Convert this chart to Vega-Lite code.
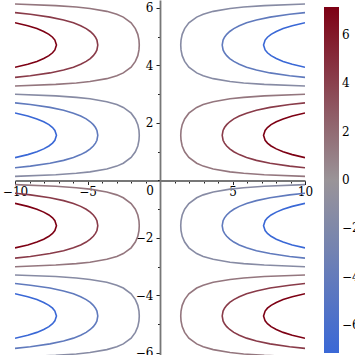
{
"$schema":"https://vega.github.io/schema/vega-lite/v6.json",
"width":290,"height":355,
"padding":{"left":15,"top":0,"right":50,"bottom":0},
"autosize":{"type":"none"},
"background":"white",
"config":{"view":{"stroke":null}},
"datasets":{"curves":[
{"k":"A7r","c":7.14,"x":10,"y":0.796},{"k":"A7r","c":7.14,"x":9.12,"y":0.9},{"k":"A7r","c":7.14,"x":8.49,"y":1.0},{"k":"A7r","c":7.14,"x":8.02,"y":1.1},{"k":"A7r","c":7.14,"x":7.66,"y":1.2},{"k":"A7r","c":7.14,"x":7.41,"y":1.3},{"k":"A7r","c":7.14,"x":7.25,"y":1.4},{"k":"A7r","c":7.14,"x":7.14,"y":1.571},{"k":"A7r","c":7.14,"x":7.25,"y":1.742},{"k":"A7r","c":7.14,"x":7.41,"y":1.842},{"k":"A7r","c":7.14,"x":7.66,"y":1.942},{"k":"A7r","c":7.14,"x":8.02,"y":2.042},{"k":"A7r","c":7.14,"x":8.49,"y":2.142},{"k":"A7r","c":7.14,"x":9.12,"y":2.242},{"k":"A7r","c":7.14,"x":10,"y":2.346},
{"k":"A7b","c":-7.14,"x":-10,"y":0.796},{"k":"A7b","c":-7.14,"x":-9.12,"y":0.9},{"k":"A7b","c":-7.14,"x":-8.49,"y":1.0},{"k":"A7b","c":-7.14,"x":-8.02,"y":1.1},{"k":"A7b","c":-7.14,"x":-7.66,"y":1.2},{"k":"A7b","c":-7.14,"x":-7.41,"y":1.3},{"k":"A7b","c":-7.14,"x":-7.25,"y":1.4},{"k":"A7b","c":-7.14,"x":-7.14,"y":1.571},{"k":"A7b","c":-7.14,"x":-7.25,"y":1.742},{"k":"A7b","c":-7.14,"x":-7.41,"y":1.842},{"k":"A7b","c":-7.14,"x":-7.66,"y":1.942},{"k":"A7b","c":-7.14,"x":-8.02,"y":2.042},{"k":"A7b","c":-7.14,"x":-8.49,"y":2.142},{"k":"A7b","c":-7.14,"x":-9.12,"y":2.242},{"k":"A7b","c":-7.14,"x":-10,"y":2.346},
{"k":"A4r","c":4.29,"x":10,"y":0.443},{"k":"A4r","c":4.29,"x":8.94,"y":0.5},{"k":"A4r","c":4.29,"x":7.59,"y":0.6},{"k":"A4r","c":4.29,"x":6.65,"y":0.7},{"k":"A4r","c":4.29,"x":5.97,"y":0.8},{"k":"A4r","c":4.29,"x":5.47,"y":0.9},{"k":"A4r","c":4.29,"x":5.09,"y":1.0},{"k":"A4r","c":4.29,"x":4.81,"y":1.1},{"k":"A4r","c":4.29,"x":4.6,"y":1.2},{"k":"A4r","c":4.29,"x":4.45,"y":1.3},{"k":"A4r","c":4.29,"x":4.35,"y":1.4},{"k":"A4r","c":4.29,"x":4.29,"y":1.571},{"k":"A4r","c":4.29,"x":4.35,"y":1.742},{"k":"A4r","c":4.29,"x":4.45,"y":1.842},{"k":"A4r","c":4.29,"x":4.6,"y":1.942},{"k":"A4r","c":4.29,"x":4.81,"y":2.042},{"k":"A4r","c":4.29,"x":5.09,"y":2.142},{"k":"A4r","c":4.29,"x":5.47,"y":2.242},{"k":"A4r","c":4.29,"x":5.97,"y":2.342},{"k":"A4r","c":4.29,"x":6.65,"y":2.442},{"k":"A4r","c":4.29,"x":7.59,"y":2.542},{"k":"A4r","c":4.29,"x":8.94,"y":2.642},{"k":"A4r","c":4.29,"x":10,"y":2.699},
{"k":"A4b","c":-4.29,"x":-10,"y":0.443},{"k":"A4b","c":-4.29,"x":-8.94,"y":0.5},{"k":"A4b","c":-4.29,"x":-7.59,"y":0.6},{"k":"A4b","c":-4.29,"x":-6.65,"y":0.7},{"k":"A4b","c":-4.29,"x":-5.97,"y":0.8},{"k":"A4b","c":-4.29,"x":-5.47,"y":0.9},{"k":"A4b","c":-4.29,"x":-5.09,"y":1.0},{"k":"A4b","c":-4.29,"x":-4.81,"y":1.1},{"k":"A4b","c":-4.29,"x":-4.6,"y":1.2},{"k":"A4b","c":-4.29,"x":-4.45,"y":1.3},{"k":"A4b","c":-4.29,"x":-4.35,"y":1.4},{"k":"A4b","c":-4.29,"x":-4.29,"y":1.571},{"k":"A4b","c":-4.29,"x":-4.35,"y":1.742},{"k":"A4b","c":-4.29,"x":-4.45,"y":1.842},{"k":"A4b","c":-4.29,"x":-4.6,"y":1.942},{"k":"A4b","c":-4.29,"x":-4.81,"y":2.042},{"k":"A4b","c":-4.29,"x":-5.09,"y":2.142},{"k":"A4b","c":-4.29,"x":-5.47,"y":2.242},{"k":"A4b","c":-4.29,"x":-5.97,"y":2.342},{"k":"A4b","c":-4.29,"x":-6.65,"y":2.442},{"k":"A4b","c":-4.29,"x":-7.59,"y":2.542},{"k":"A4b","c":-4.29,"x":-8.94,"y":2.642},{"k":"A4b","c":-4.29,"x":-10,"y":2.699},
{"k":"A1r","c":1.43,"x":10,"y":0.143},{"k":"A1r","c":1.43,"x":7.19,"y":0.2},{"k":"A1r","c":1.43,"x":5.77,"y":0.25},{"k":"A1r","c":1.43,"x":4.83,"y":0.3},{"k":"A1r","c":1.43,"x":3.67,"y":0.4},{"k":"A1r","c":1.43,"x":2.98,"y":0.5},{"k":"A1r","c":1.43,"x":2.53,"y":0.6},{"k":"A1r","c":1.43,"x":1.99,"y":0.8},{"k":"A1r","c":1.43,"x":1.7,"y":1.0},{"k":"A1r","c":1.43,"x":1.53,"y":1.2},{"k":"A1r","c":1.43,"x":1.45,"y":1.4},{"k":"A1r","c":1.43,"x":1.43,"y":1.571},{"k":"A1r","c":1.43,"x":1.45,"y":1.742},{"k":"A1r","c":1.43,"x":1.53,"y":1.942},{"k":"A1r","c":1.43,"x":1.7,"y":2.142},{"k":"A1r","c":1.43,"x":1.99,"y":2.342},{"k":"A1r","c":1.43,"x":2.53,"y":2.542},{"k":"A1r","c":1.43,"x":2.98,"y":2.642},{"k":"A1r","c":1.43,"x":3.67,"y":2.742},{"k":"A1r","c":1.43,"x":4.83,"y":2.842},{"k":"A1r","c":1.43,"x":5.77,"y":2.892},{"k":"A1r","c":1.43,"x":7.19,"y":2.942},{"k":"A1r","c":1.43,"x":10,"y":2.998},
{"k":"A1b","c":-1.43,"x":-10,"y":0.143},{"k":"A1b","c":-1.43,"x":-7.19,"y":0.2},{"k":"A1b","c":-1.43,"x":-5.77,"y":0.25},{"k":"A1b","c":-1.43,"x":-4.83,"y":0.3},{"k":"A1b","c":-1.43,"x":-3.67,"y":0.4},{"k":"A1b","c":-1.43,"x":-2.98,"y":0.5},{"k":"A1b","c":-1.43,"x":-2.53,"y":0.6},{"k":"A1b","c":-1.43,"x":-1.99,"y":0.8},{"k":"A1b","c":-1.43,"x":-1.7,"y":1.0},{"k":"A1b","c":-1.43,"x":-1.53,"y":1.2},{"k":"A1b","c":-1.43,"x":-1.45,"y":1.4},{"k":"A1b","c":-1.43,"x":-1.43,"y":1.571},{"k":"A1b","c":-1.43,"x":-1.45,"y":1.742},{"k":"A1b","c":-1.43,"x":-1.53,"y":1.942},{"k":"A1b","c":-1.43,"x":-1.7,"y":2.142},{"k":"A1b","c":-1.43,"x":-1.99,"y":2.342},{"k":"A1b","c":-1.43,"x":-2.53,"y":2.542},{"k":"A1b","c":-1.43,"x":-2.98,"y":2.642},{"k":"A1b","c":-1.43,"x":-3.67,"y":2.742},{"k":"A1b","c":-1.43,"x":-4.83,"y":2.842},{"k":"A1b","c":-1.43,"x":-5.77,"y":2.892},{"k":"A1b","c":-1.43,"x":-7.19,"y":2.942},{"k":"A1b","c":-1.43,"x":-10,"y":2.998},

{"k":"B7r","c":7.14,"x":-10,"y":3.938},{"k":"B7r","c":7.14,"x":-9.12,"y":4.042},{"k":"B7r","c":7.14,"x":-8.49,"y":4.142},{"k":"B7r","c":7.14,"x":-8.02,"y":4.242},{"k":"B7r","c":7.14,"x":-7.66,"y":4.342},{"k":"B7r","c":7.14,"x":-7.41,"y":4.442},{"k":"B7r","c":7.14,"x":-7.25,"y":4.542},{"k":"B7r","c":7.14,"x":-7.14,"y":4.712},{"k":"B7r","c":7.14,"x":-7.25,"y":4.883},{"k":"B7r","c":7.14,"x":-7.41,"y":4.983},{"k":"B7r","c":7.14,"x":-7.66,"y":5.083},{"k":"B7r","c":7.14,"x":-8.02,"y":5.183},{"k":"B7r","c":7.14,"x":-8.49,"y":5.283},{"k":"B7r","c":7.14,"x":-9.12,"y":5.383},{"k":"B7r","c":7.14,"x":-10,"y":5.488},
{"k":"B7b","c":-7.14,"x":10,"y":3.938},{"k":"B7b","c":-7.14,"x":9.12,"y":4.042},{"k":"B7b","c":-7.14,"x":8.49,"y":4.142},{"k":"B7b","c":-7.14,"x":8.02,"y":4.242},{"k":"B7b","c":-7.14,"x":7.66,"y":4.342},{"k":"B7b","c":-7.14,"x":7.41,"y":4.442},{"k":"B7b","c":-7.14,"x":7.25,"y":4.542},{"k":"B7b","c":-7.14,"x":7.14,"y":4.712},{"k":"B7b","c":-7.14,"x":7.25,"y":4.883},{"k":"B7b","c":-7.14,"x":7.41,"y":4.983},{"k":"B7b","c":-7.14,"x":7.66,"y":5.083},{"k":"B7b","c":-7.14,"x":8.02,"y":5.183},{"k":"B7b","c":-7.14,"x":8.49,"y":5.283},{"k":"B7b","c":-7.14,"x":9.12,"y":5.383},{"k":"B7b","c":-7.14,"x":10,"y":5.488},
{"k":"B4r","c":4.29,"x":-10,"y":3.585},{"k":"B4r","c":4.29,"x":-8.94,"y":3.642},{"k":"B4r","c":4.29,"x":-7.59,"y":3.742},{"k":"B4r","c":4.29,"x":-6.65,"y":3.842},{"k":"B4r","c":4.29,"x":-5.97,"y":3.942},{"k":"B4r","c":4.29,"x":-5.47,"y":4.042},{"k":"B4r","c":4.29,"x":-5.09,"y":4.142},{"k":"B4r","c":4.29,"x":-4.81,"y":4.242},{"k":"B4r","c":4.29,"x":-4.6,"y":4.342},{"k":"B4r","c":4.29,"x":-4.45,"y":4.442},{"k":"B4r","c":4.29,"x":-4.35,"y":4.542},{"k":"B4r","c":4.29,"x":-4.29,"y":4.712},{"k":"B4r","c":4.29,"x":-4.35,"y":4.883},{"k":"B4r","c":4.29,"x":-4.45,"y":4.983},{"k":"B4r","c":4.29,"x":-4.6,"y":5.083},{"k":"B4r","c":4.29,"x":-4.81,"y":5.183},{"k":"B4r","c":4.29,"x":-5.09,"y":5.283},{"k":"B4r","c":4.29,"x":-5.47,"y":5.383},{"k":"B4r","c":4.29,"x":-5.97,"y":5.483},{"k":"B4r","c":4.29,"x":-6.65,"y":5.583},{"k":"B4r","c":4.29,"x":-7.59,"y":5.683},{"k":"B4r","c":4.29,"x":-8.94,"y":5.783},{"k":"B4r","c":4.29,"x":-10,"y":5.84},
{"k":"B4b","c":-4.29,"x":10,"y":3.585},{"k":"B4b","c":-4.29,"x":8.94,"y":3.642},{"k":"B4b","c":-4.29,"x":7.59,"y":3.742},{"k":"B4b","c":-4.29,"x":6.65,"y":3.842},{"k":"B4b","c":-4.29,"x":5.97,"y":3.942},{"k":"B4b","c":-4.29,"x":5.47,"y":4.042},{"k":"B4b","c":-4.29,"x":5.09,"y":4.142},{"k":"B4b","c":-4.29,"x":4.81,"y":4.242},{"k":"B4b","c":-4.29,"x":4.6,"y":4.342},{"k":"B4b","c":-4.29,"x":4.45,"y":4.442},{"k":"B4b","c":-4.29,"x":4.35,"y":4.542},{"k":"B4b","c":-4.29,"x":4.29,"y":4.712},{"k":"B4b","c":-4.29,"x":4.35,"y":4.883},{"k":"B4b","c":-4.29,"x":4.45,"y":4.983},{"k":"B4b","c":-4.29,"x":4.6,"y":5.083},{"k":"B4b","c":-4.29,"x":4.81,"y":5.183},{"k":"B4b","c":-4.29,"x":5.09,"y":5.283},{"k":"B4b","c":-4.29,"x":5.47,"y":5.383},{"k":"B4b","c":-4.29,"x":5.97,"y":5.483},{"k":"B4b","c":-4.29,"x":6.65,"y":5.583},{"k":"B4b","c":-4.29,"x":7.59,"y":5.683},{"k":"B4b","c":-4.29,"x":8.94,"y":5.783},{"k":"B4b","c":-4.29,"x":10,"y":5.84},
{"k":"B1r","c":1.43,"x":-10,"y":3.285},{"k":"B1r","c":1.43,"x":-7.19,"y":3.342},{"k":"B1r","c":1.43,"x":-5.77,"y":3.392},{"k":"B1r","c":1.43,"x":-4.83,"y":3.442},{"k":"B1r","c":1.43,"x":-3.67,"y":3.542},{"k":"B1r","c":1.43,"x":-2.98,"y":3.642},{"k":"B1r","c":1.43,"x":-2.53,"y":3.742},{"k":"B1r","c":1.43,"x":-1.99,"y":3.942},{"k":"B1r","c":1.43,"x":-1.7,"y":4.142},{"k":"B1r","c":1.43,"x":-1.53,"y":4.342},{"k":"B1r","c":1.43,"x":-1.45,"y":4.542},{"k":"B1r","c":1.43,"x":-1.43,"y":4.712},{"k":"B1r","c":1.43,"x":-1.45,"y":4.883},{"k":"B1r","c":1.43,"x":-1.53,"y":5.083},{"k":"B1r","c":1.43,"x":-1.7,"y":5.283},{"k":"B1r","c":1.43,"x":-1.99,"y":5.483},{"k":"B1r","c":1.43,"x":-2.53,"y":5.683},{"k":"B1r","c":1.43,"x":-2.98,"y":5.783},{"k":"B1r","c":1.43,"x":-3.67,"y":5.883},{"k":"B1r","c":1.43,"x":-4.83,"y":5.983},{"k":"B1r","c":1.43,"x":-5.77,"y":6.033},{"k":"B1r","c":1.43,"x":-7.19,"y":6.083},{"k":"B1r","c":1.43,"x":-10,"y":6.14},
{"k":"B1b","c":-1.43,"x":10,"y":3.285},{"k":"B1b","c":-1.43,"x":7.19,"y":3.342},{"k":"B1b","c":-1.43,"x":5.77,"y":3.392},{"k":"B1b","c":-1.43,"x":4.83,"y":3.442},{"k":"B1b","c":-1.43,"x":3.67,"y":3.542},{"k":"B1b","c":-1.43,"x":2.98,"y":3.642},{"k":"B1b","c":-1.43,"x":2.53,"y":3.742},{"k":"B1b","c":-1.43,"x":1.99,"y":3.942},{"k":"B1b","c":-1.43,"x":1.7,"y":4.142},{"k":"B1b","c":-1.43,"x":1.53,"y":4.342},{"k":"B1b","c":-1.43,"x":1.45,"y":4.542},{"k":"B1b","c":-1.43,"x":1.43,"y":4.712},{"k":"B1b","c":-1.43,"x":1.45,"y":4.883},{"k":"B1b","c":-1.43,"x":1.53,"y":5.083},{"k":"B1b","c":-1.43,"x":1.7,"y":5.283},{"k":"B1b","c":-1.43,"x":1.99,"y":5.483},{"k":"B1b","c":-1.43,"x":2.53,"y":5.683},{"k":"B1b","c":-1.43,"x":2.98,"y":5.783},{"k":"B1b","c":-1.43,"x":3.67,"y":5.883},{"k":"B1b","c":-1.43,"x":4.83,"y":5.983},{"k":"B1b","c":-1.43,"x":5.77,"y":6.033},{"k":"B1b","c":-1.43,"x":7.19,"y":6.083},{"k":"B1b","c":-1.43,"x":10,"y":6.14},

{"k":"C7r","c":7.14,"x":-10,"y":-2.346},{"k":"C7r","c":7.14,"x":-9.12,"y":-2.242},{"k":"C7r","c":7.14,"x":-8.49,"y":-2.142},{"k":"C7r","c":7.14,"x":-8.02,"y":-2.042},{"k":"C7r","c":7.14,"x":-7.66,"y":-1.942},{"k":"C7r","c":7.14,"x":-7.41,"y":-1.842},{"k":"C7r","c":7.14,"x":-7.25,"y":-1.742},{"k":"C7r","c":7.14,"x":-7.14,"y":-1.571},{"k":"C7r","c":7.14,"x":-7.25,"y":-1.4},{"k":"C7r","c":7.14,"x":-7.41,"y":-1.3},{"k":"C7r","c":7.14,"x":-7.66,"y":-1.2},{"k":"C7r","c":7.14,"x":-8.02,"y":-1.1},{"k":"C7r","c":7.14,"x":-8.49,"y":-1.0},{"k":"C7r","c":7.14,"x":-9.12,"y":-0.9},{"k":"C7r","c":7.14,"x":-10,"y":-0.796},
{"k":"C7b","c":-7.14,"x":10,"y":-2.346},{"k":"C7b","c":-7.14,"x":9.12,"y":-2.242},{"k":"C7b","c":-7.14,"x":8.49,"y":-2.142},{"k":"C7b","c":-7.14,"x":8.02,"y":-2.042},{"k":"C7b","c":-7.14,"x":7.66,"y":-1.942},{"k":"C7b","c":-7.14,"x":7.41,"y":-1.842},{"k":"C7b","c":-7.14,"x":7.25,"y":-1.742},{"k":"C7b","c":-7.14,"x":7.14,"y":-1.571},{"k":"C7b","c":-7.14,"x":7.25,"y":-1.4},{"k":"C7b","c":-7.14,"x":7.41,"y":-1.3},{"k":"C7b","c":-7.14,"x":7.66,"y":-1.2},{"k":"C7b","c":-7.14,"x":8.02,"y":-1.1},{"k":"C7b","c":-7.14,"x":8.49,"y":-1.0},{"k":"C7b","c":-7.14,"x":9.12,"y":-0.9},{"k":"C7b","c":-7.14,"x":10,"y":-0.796},
{"k":"C4r","c":4.29,"x":-10,"y":-2.699},{"k":"C4r","c":4.29,"x":-8.94,"y":-2.642},{"k":"C4r","c":4.29,"x":-7.59,"y":-2.542},{"k":"C4r","c":4.29,"x":-6.65,"y":-2.442},{"k":"C4r","c":4.29,"x":-5.97,"y":-2.342},{"k":"C4r","c":4.29,"x":-5.47,"y":-2.242},{"k":"C4r","c":4.29,"x":-5.09,"y":-2.142},{"k":"C4r","c":4.29,"x":-4.81,"y":-2.042},{"k":"C4r","c":4.29,"x":-4.6,"y":-1.942},{"k":"C4r","c":4.29,"x":-4.45,"y":-1.842},{"k":"C4r","c":4.29,"x":-4.35,"y":-1.742},{"k":"C4r","c":4.29,"x":-4.29,"y":-1.571},{"k":"C4r","c":4.29,"x":-4.35,"y":-1.4},{"k":"C4r","c":4.29,"x":-4.45,"y":-1.3},{"k":"C4r","c":4.29,"x":-4.6,"y":-1.2},{"k":"C4r","c":4.29,"x":-4.81,"y":-1.1},{"k":"C4r","c":4.29,"x":-5.09,"y":-1.0},{"k":"C4r","c":4.29,"x":-5.47,"y":-0.9},{"k":"C4r","c":4.29,"x":-5.97,"y":-0.8},{"k":"C4r","c":4.29,"x":-6.65,"y":-0.7},{"k":"C4r","c":4.29,"x":-7.59,"y":-0.6},{"k":"C4r","c":4.29,"x":-8.94,"y":-0.5},{"k":"C4r","c":4.29,"x":-10,"y":-0.443},
{"k":"C4b","c":-4.29,"x":10,"y":-2.699},{"k":"C4b","c":-4.29,"x":8.94,"y":-2.642},{"k":"C4b","c":-4.29,"x":7.59,"y":-2.542},{"k":"C4b","c":-4.29,"x":6.65,"y":-2.442},{"k":"C4b","c":-4.29,"x":5.97,"y":-2.342},{"k":"C4b","c":-4.29,"x":5.47,"y":-2.242},{"k":"C4b","c":-4.29,"x":5.09,"y":-2.142},{"k":"C4b","c":-4.29,"x":4.81,"y":-2.042},{"k":"C4b","c":-4.29,"x":4.6,"y":-1.942},{"k":"C4b","c":-4.29,"x":4.45,"y":-1.842},{"k":"C4b","c":-4.29,"x":4.35,"y":-1.742},{"k":"C4b","c":-4.29,"x":4.29,"y":-1.571},{"k":"C4b","c":-4.29,"x":4.35,"y":-1.4},{"k":"C4b","c":-4.29,"x":4.45,"y":-1.3},{"k":"C4b","c":-4.29,"x":4.6,"y":-1.2},{"k":"C4b","c":-4.29,"x":4.81,"y":-1.1},{"k":"C4b","c":-4.29,"x":5.09,"y":-1.0},{"k":"C4b","c":-4.29,"x":5.47,"y":-0.9},{"k":"C4b","c":-4.29,"x":5.97,"y":-0.8},{"k":"C4b","c":-4.29,"x":6.65,"y":-0.7},{"k":"C4b","c":-4.29,"x":7.59,"y":-0.6},{"k":"C4b","c":-4.29,"x":8.94,"y":-0.5},{"k":"C4b","c":-4.29,"x":10,"y":-0.443},
{"k":"C1r","c":1.43,"x":-10,"y":-2.998},{"k":"C1r","c":1.43,"x":-7.19,"y":-2.942},{"k":"C1r","c":1.43,"x":-5.77,"y":-2.892},{"k":"C1r","c":1.43,"x":-4.83,"y":-2.842},{"k":"C1r","c":1.43,"x":-3.67,"y":-2.742},{"k":"C1r","c":1.43,"x":-2.98,"y":-2.642},{"k":"C1r","c":1.43,"x":-2.53,"y":-2.542},{"k":"C1r","c":1.43,"x":-1.99,"y":-2.342},{"k":"C1r","c":1.43,"x":-1.7,"y":-2.142},{"k":"C1r","c":1.43,"x":-1.53,"y":-1.942},{"k":"C1r","c":1.43,"x":-1.45,"y":-1.742},{"k":"C1r","c":1.43,"x":-1.43,"y":-1.571},{"k":"C1r","c":1.43,"x":-1.45,"y":-1.4},{"k":"C1r","c":1.43,"x":-1.53,"y":-1.2},{"k":"C1r","c":1.43,"x":-1.7,"y":-1.0},{"k":"C1r","c":1.43,"x":-1.99,"y":-0.8},{"k":"C1r","c":1.43,"x":-2.53,"y":-0.6},{"k":"C1r","c":1.43,"x":-2.98,"y":-0.5},{"k":"C1r","c":1.43,"x":-3.67,"y":-0.4},{"k":"C1r","c":1.43,"x":-4.83,"y":-0.3},{"k":"C1r","c":1.43,"x":-5.77,"y":-0.25},{"k":"C1r","c":1.43,"x":-7.19,"y":-0.2},{"k":"C1r","c":1.43,"x":-10,"y":-0.143},
{"k":"C1b","c":-1.43,"x":10,"y":-2.998},{"k":"C1b","c":-1.43,"x":7.19,"y":-2.942},{"k":"C1b","c":-1.43,"x":5.77,"y":-2.892},{"k":"C1b","c":-1.43,"x":4.83,"y":-2.842},{"k":"C1b","c":-1.43,"x":3.67,"y":-2.742},{"k":"C1b","c":-1.43,"x":2.98,"y":-2.642},{"k":"C1b","c":-1.43,"x":2.53,"y":-2.542},{"k":"C1b","c":-1.43,"x":1.99,"y":-2.342},{"k":"C1b","c":-1.43,"x":1.7,"y":-2.142},{"k":"C1b","c":-1.43,"x":1.53,"y":-1.942},{"k":"C1b","c":-1.43,"x":1.45,"y":-1.742},{"k":"C1b","c":-1.43,"x":1.43,"y":-1.571},{"k":"C1b","c":-1.43,"x":1.45,"y":-1.4},{"k":"C1b","c":-1.43,"x":1.53,"y":-1.2},{"k":"C1b","c":-1.43,"x":1.7,"y":-1.0},{"k":"C1b","c":-1.43,"x":1.99,"y":-0.8},{"k":"C1b","c":-1.43,"x":2.53,"y":-0.6},{"k":"C1b","c":-1.43,"x":2.98,"y":-0.5},{"k":"C1b","c":-1.43,"x":3.67,"y":-0.4},{"k":"C1b","c":-1.43,"x":4.83,"y":-0.3},{"k":"C1b","c":-1.43,"x":5.77,"y":-0.25},{"k":"C1b","c":-1.43,"x":7.19,"y":-0.2},{"k":"C1b","c":-1.43,"x":10,"y":-0.143},

{"k":"D7r","c":7.14,"x":10,"y":-5.488},{"k":"D7r","c":7.14,"x":9.12,"y":-5.383},{"k":"D7r","c":7.14,"x":8.49,"y":-5.283},{"k":"D7r","c":7.14,"x":8.02,"y":-5.183},{"k":"D7r","c":7.14,"x":7.66,"y":-5.083},{"k":"D7r","c":7.14,"x":7.41,"y":-4.983},{"k":"D7r","c":7.14,"x":7.25,"y":-4.883},{"k":"D7r","c":7.14,"x":7.14,"y":-4.712},{"k":"D7r","c":7.14,"x":7.25,"y":-4.542},{"k":"D7r","c":7.14,"x":7.41,"y":-4.442},{"k":"D7r","c":7.14,"x":7.66,"y":-4.342},{"k":"D7r","c":7.14,"x":8.02,"y":-4.242},{"k":"D7r","c":7.14,"x":8.49,"y":-4.142},{"k":"D7r","c":7.14,"x":9.12,"y":-4.042},{"k":"D7r","c":7.14,"x":10,"y":-3.938},
{"k":"D7b","c":-7.14,"x":-10,"y":-5.488},{"k":"D7b","c":-7.14,"x":-9.12,"y":-5.383},{"k":"D7b","c":-7.14,"x":-8.49,"y":-5.283},{"k":"D7b","c":-7.14,"x":-8.02,"y":-5.183},{"k":"D7b","c":-7.14,"x":-7.66,"y":-5.083},{"k":"D7b","c":-7.14,"x":-7.41,"y":-4.983},{"k":"D7b","c":-7.14,"x":-7.25,"y":-4.883},{"k":"D7b","c":-7.14,"x":-7.14,"y":-4.712},{"k":"D7b","c":-7.14,"x":-7.25,"y":-4.542},{"k":"D7b","c":-7.14,"x":-7.41,"y":-4.442},{"k":"D7b","c":-7.14,"x":-7.66,"y":-4.342},{"k":"D7b","c":-7.14,"x":-8.02,"y":-4.242},{"k":"D7b","c":-7.14,"x":-8.49,"y":-4.142},{"k":"D7b","c":-7.14,"x":-9.12,"y":-4.042},{"k":"D7b","c":-7.14,"x":-10,"y":-3.938},
{"k":"D4r","c":4.29,"x":10,"y":-5.84},{"k":"D4r","c":4.29,"x":8.94,"y":-5.783},{"k":"D4r","c":4.29,"x":7.59,"y":-5.683},{"k":"D4r","c":4.29,"x":6.65,"y":-5.583},{"k":"D4r","c":4.29,"x":5.97,"y":-5.483},{"k":"D4r","c":4.29,"x":5.47,"y":-5.383},{"k":"D4r","c":4.29,"x":5.09,"y":-5.283},{"k":"D4r","c":4.29,"x":4.81,"y":-5.183},{"k":"D4r","c":4.29,"x":4.6,"y":-5.083},{"k":"D4r","c":4.29,"x":4.45,"y":-4.983},{"k":"D4r","c":4.29,"x":4.35,"y":-4.883},{"k":"D4r","c":4.29,"x":4.29,"y":-4.712},{"k":"D4r","c":4.29,"x":4.35,"y":-4.542},{"k":"D4r","c":4.29,"x":4.45,"y":-4.442},{"k":"D4r","c":4.29,"x":4.6,"y":-4.342},{"k":"D4r","c":4.29,"x":4.81,"y":-4.242},{"k":"D4r","c":4.29,"x":5.09,"y":-4.142},{"k":"D4r","c":4.29,"x":5.47,"y":-4.042},{"k":"D4r","c":4.29,"x":5.97,"y":-3.942},{"k":"D4r","c":4.29,"x":6.65,"y":-3.842},{"k":"D4r","c":4.29,"x":7.59,"y":-3.742},{"k":"D4r","c":4.29,"x":8.94,"y":-3.642},{"k":"D4r","c":4.29,"x":10,"y":-3.585},
{"k":"D4b","c":-4.29,"x":-10,"y":-5.84},{"k":"D4b","c":-4.29,"x":-8.94,"y":-5.783},{"k":"D4b","c":-4.29,"x":-7.59,"y":-5.683},{"k":"D4b","c":-4.29,"x":-6.65,"y":-5.583},{"k":"D4b","c":-4.29,"x":-5.97,"y":-5.483},{"k":"D4b","c":-4.29,"x":-5.47,"y":-5.383},{"k":"D4b","c":-4.29,"x":-5.09,"y":-5.283},{"k":"D4b","c":-4.29,"x":-4.81,"y":-5.183},{"k":"D4b","c":-4.29,"x":-4.6,"y":-5.083},{"k":"D4b","c":-4.29,"x":-4.45,"y":-4.983},{"k":"D4b","c":-4.29,"x":-4.35,"y":-4.883},{"k":"D4b","c":-4.29,"x":-4.29,"y":-4.712},{"k":"D4b","c":-4.29,"x":-4.35,"y":-4.542},{"k":"D4b","c":-4.29,"x":-4.45,"y":-4.442},{"k":"D4b","c":-4.29,"x":-4.6,"y":-4.342},{"k":"D4b","c":-4.29,"x":-4.81,"y":-4.242},{"k":"D4b","c":-4.29,"x":-5.09,"y":-4.142},{"k":"D4b","c":-4.29,"x":-5.47,"y":-4.042},{"k":"D4b","c":-4.29,"x":-5.97,"y":-3.942},{"k":"D4b","c":-4.29,"x":-6.65,"y":-3.842},{"k":"D4b","c":-4.29,"x":-7.59,"y":-3.742},{"k":"D4b","c":-4.29,"x":-8.94,"y":-3.642},{"k":"D4b","c":-4.29,"x":-10,"y":-3.585},
{"k":"D1r","c":1.43,"x":10,"y":-6.14},{"k":"D1r","c":1.43,"x":7.19,"y":-6.083},{"k":"D1r","c":1.43,"x":5.77,"y":-6.033},{"k":"D1r","c":1.43,"x":4.83,"y":-5.983},{"k":"D1r","c":1.43,"x":3.67,"y":-5.883},{"k":"D1r","c":1.43,"x":2.98,"y":-5.783},{"k":"D1r","c":1.43,"x":2.53,"y":-5.683},{"k":"D1r","c":1.43,"x":1.99,"y":-5.483},{"k":"D1r","c":1.43,"x":1.7,"y":-5.283},{"k":"D1r","c":1.43,"x":1.53,"y":-5.083},{"k":"D1r","c":1.43,"x":1.45,"y":-4.883},{"k":"D1r","c":1.43,"x":1.43,"y":-4.712},{"k":"D1r","c":1.43,"x":1.45,"y":-4.542},{"k":"D1r","c":1.43,"x":1.53,"y":-4.342},{"k":"D1r","c":1.43,"x":1.7,"y":-4.142},{"k":"D1r","c":1.43,"x":1.99,"y":-3.942},{"k":"D1r","c":1.43,"x":2.53,"y":-3.742},{"k":"D1r","c":1.43,"x":2.98,"y":-3.642},{"k":"D1r","c":1.43,"x":3.67,"y":-3.542},{"k":"D1r","c":1.43,"x":4.83,"y":-3.442},{"k":"D1r","c":1.43,"x":5.77,"y":-3.392},{"k":"D1r","c":1.43,"x":7.19,"y":-3.342},{"k":"D1r","c":1.43,"x":10,"y":-3.285},
{"k":"D1b","c":-1.43,"x":-10,"y":-6.14},{"k":"D1b","c":-1.43,"x":-7.19,"y":-6.083},{"k":"D1b","c":-1.43,"x":-5.77,"y":-6.033},{"k":"D1b","c":-1.43,"x":-4.83,"y":-5.983},{"k":"D1b","c":-1.43,"x":-3.67,"y":-5.883},{"k":"D1b","c":-1.43,"x":-2.98,"y":-5.783},{"k":"D1b","c":-1.43,"x":-2.53,"y":-5.683},{"k":"D1b","c":-1.43,"x":-1.99,"y":-5.483},{"k":"D1b","c":-1.43,"x":-1.7,"y":-5.283},{"k":"D1b","c":-1.43,"x":-1.53,"y":-5.083},{"k":"D1b","c":-1.43,"x":-1.45,"y":-4.883},{"k":"D1b","c":-1.43,"x":-1.43,"y":-4.712},{"k":"D1b","c":-1.43,"x":-1.45,"y":-4.542},{"k":"D1b","c":-1.43,"x":-1.53,"y":-4.342},{"k":"D1b","c":-1.43,"x":-1.7,"y":-4.142},{"k":"D1b","c":-1.43,"x":-1.99,"y":-3.942},{"k":"D1b","c":-1.43,"x":-2.53,"y":-3.742},{"k":"D1b","c":-1.43,"x":-2.98,"y":-3.642},{"k":"D1b","c":-1.43,"x":-3.67,"y":-3.542},{"k":"D1b","c":-1.43,"x":-4.83,"y":-3.442},{"k":"D1b","c":-1.43,"x":-5.77,"y":-3.392},{"k":"D1b","c":-1.43,"x":-7.19,"y":-3.342},{"k":"D1b","c":-1.43,"x":-10,"y":-3.285}
]},
"data":{"name":"curves"},
"mark":{"type":"line","strokeWidth":1.6,"clip":true},
"encoding":{
"x":{"field":"x","type":"quantitative","scale":{"domain":[-10,10],"nice":false,"zero":false},
 "axis":{"orient":"bottom","offset":-174.5,"title":null,"grid":false,
  "values":[-10,-9,-8,-7,-6,-5,-4,-3,-2,-1,1,2,3,4,5,6,7,8,9,10],
  "labelExpr":"datum.value % 5 == 0 ? replace(datum.label, '-', '−') : ''",
  "domainColor":"#777","domainWidth":1.8,"tickColor":"#222","tickWidth":1,
  "tickSize":{"condition":{"test":"datum.value % 5 == 0","value":4},"value":2.5},
  "labelFont":"DejaVu Serif","labelFontSize":12,"labelColor":"#000","labelPadding":2,"labelOverlap":false,"labelFlush":false}},
"y":{"field":"y","type":"quantitative","scale":{"domain":[-6.07,6.278],"nice":false,"zero":false},
 "axis":{"orient":"left","offset":-145,"title":null,"grid":false,
  "values":[-6,-5,-4,-3,-2,-1,0,1,2,3,4,5,6],
  "labelExpr":"datum.value % 2 == 0 ? replace(datum.label, '-', '−') : ''",
  "domainColor":"#777","domainWidth":1.8,"tickColor":"#222","tickWidth":1,
  "tickSize":{"condition":{"test":"datum.value % 2 == 0 && datum.value != 0","value":4},"value":2.5},
  "labelOffset":{"condition":{"test":"datum.value == 0","value":10},"value":0},
  "labelPadding":{"condition":{"test":"datum.value == 0","value":4},"value":3},
  "labelFont":"DejaVu Serif","labelFontSize":12,"labelColor":"#000","labelOverlap":false,"labelFlush":false}},
"detail":{"field":"k"},
"order":{"field":"y"},
"color":{"field":"c","type":"quantitative",
 "scale":{"domain":[-7.14,0,7.14],"range":["#3a68d6","#9a9498","#7d0014"],"interpolate":"rgb"},
 "legend":{"orient":"none","legendX":309,"legendY":7,"direction":"vertical","gradientLength":346,"gradientThickness":15,"title":null,
  "values":[-6,-4,-2,0,2,4,6],"labelFont":"DejaVu Serif","labelFontSize":12,"labelColor":"#000","labelOffset":3,"labelOverlap":false,
  "labelExpr":"replace(datum.label, '-', '−')","gradientStrokeWidth":0,"padding":0}}
}
}
